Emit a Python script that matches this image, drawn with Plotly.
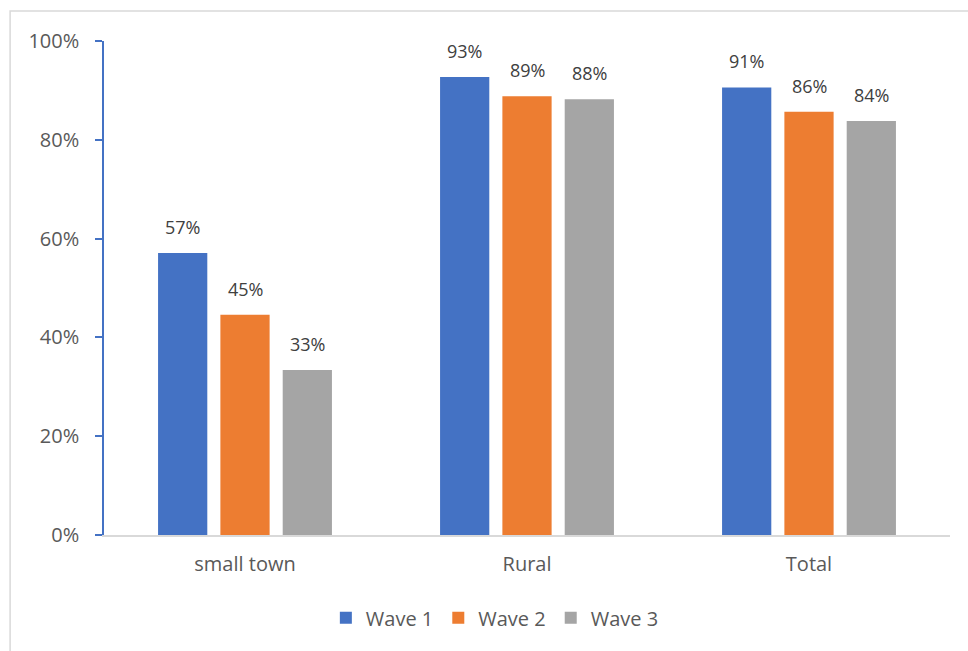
import plotly.graph_objects as go

categories = ["small town", "Rural", "Total"]
wave1 = [0.571, 0.927, 0.906]
wave2 = [0.446, 0.888, 0.857]
wave3 = [0.334, 0.882, 0.838]
series_names = ["Wave 1", "Wave 2", "Wave 3"]
colors = ["#4472C4", "#ED7D31", "#A5A5A5"]
y_ticks = [0, 0.2, 0.4, 0.6, 0.8, 1.0]
y_tick_labels = ["0%", "20%", "40%", "60%", "80%", "100%"]

FONT = "Open Sans"
fig = go.Figure()
for name, vals, col in zip(series_names, [wave1, wave2, wave3], colors):
    fig.add_trace(go.Bar(
        x=categories, y=vals, name=name, marker_color=col,
        marker_line_width=0, offsetgroup=name,
    ))

# data labels as annotations, offset above each bar
n = len(series_names)
for i, vals in enumerate([wave1, wave2, wave3]):
    for j, v in enumerate(vals):
        fig.add_annotation(
            x=j, y=v, xref="x", yref="y",
            text=f"{v:.0%}", showarrow=False,
            xshift=(i - (n - 1) / 2) * 62.5, yshift=12, yanchor="bottom",
            font=dict(family=FONT, size=18, color="#404040"),
        )

fig.update_layout(
    width=968, height=651,
    margin=dict(l=104, r=18, t=41, b=116),
    paper_bgcolor="white", plot_bgcolor="white",
    barmode="group", bargap=0.337, bargroupgap=0.21,
    font=dict(family=FONT, color="#595959"),
    showlegend=True,
    legend=dict(orientation="h", x=0.462, xanchor="center", y=-0.128, yanchor="top",
                font=dict(family=FONT, size=20, color="#595959"),
                traceorder="normal"),
)
fig.update_yaxes(
    range=[0, 1.0], tickvals=y_ticks, ticktext=y_tick_labels,
    showgrid=False, zeroline=False,
    showline=True, linecolor="#4472C4", linewidth=1.5,
    ticks="outside", ticklen=7, tickcolor="#4472C4", tickwidth=1.5,
    tickfont=dict(family=FONT, size=20, color="#595959"),
    ticklabelstandoff=12,
)
fig.update_xaxes(
    showgrid=False, showline=True, linecolor="#D9D9D9", linewidth=1.5,
    ticks="", tickfont=dict(family=FONT, size=20, color="#595959"),
    ticklabelstandoff=10,
)
fig.add_shape(type="rect", xref="paper", yref="paper",
              x0=-0.111, x1=1.2, y0=-0.5, y1=1.0607,
              line=dict(color="#D9D9D9", width=1.5), fillcolor="rgba(0,0,0,0)",
              layer="below")

fig.write_html("out.html")
